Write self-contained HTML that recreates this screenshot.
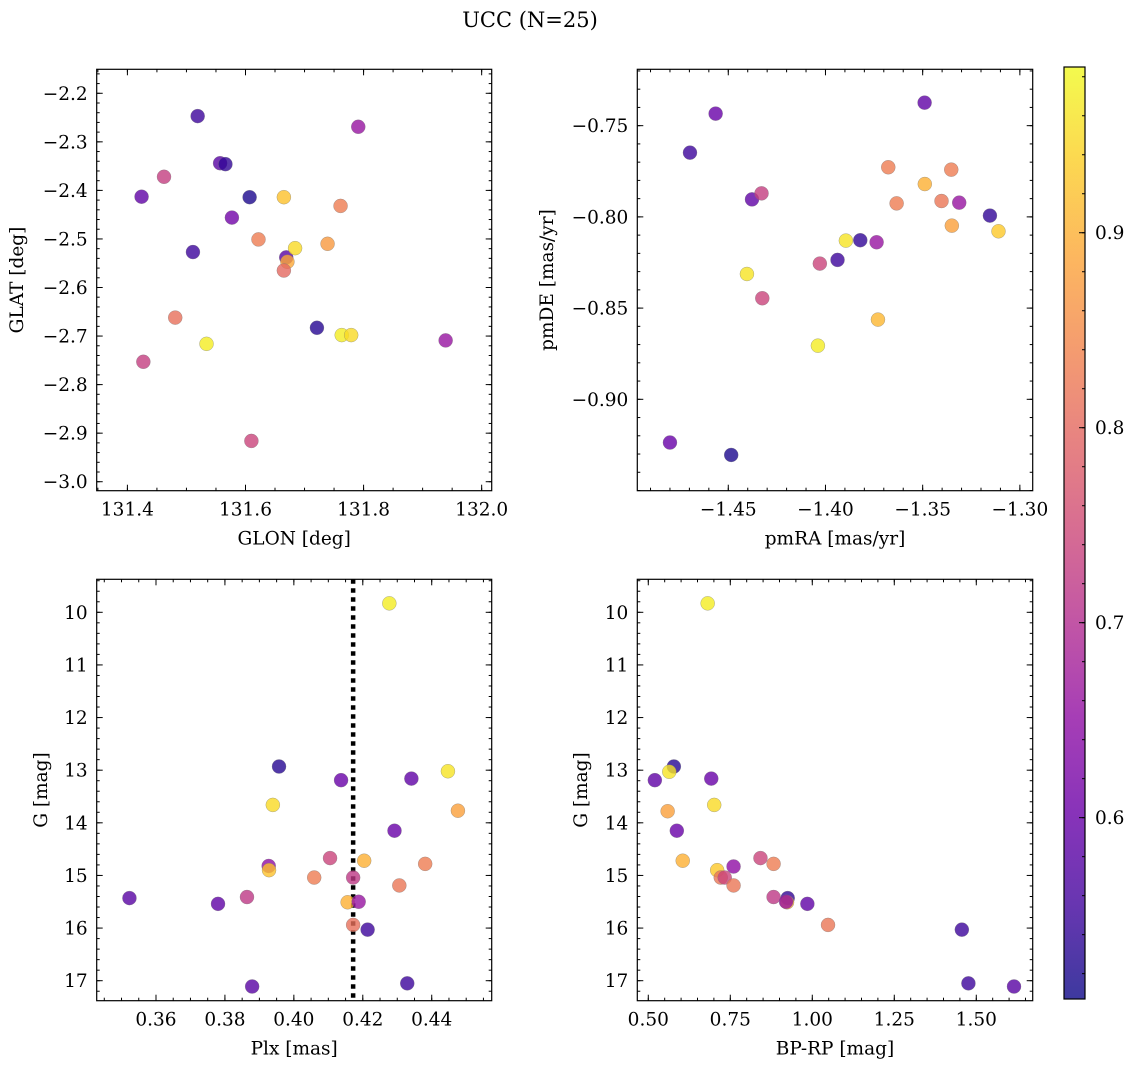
<!DOCTYPE html>
<html><head><meta charset="utf-8"><style>
html,body{margin:0;padding:0;background:#fff;}
svg{display:block;font-family:"DejaVu Serif","Liberation Serif",serif;}
</style></head><body>
<svg id="fig" width="1136" height="1067" viewBox="0 0 1136 1067" xmlns="http://www.w3.org/2000/svg">
<text x="530" y="27" font-size="21" text-anchor="middle">UCC (N=25)</text>
</svg>
<script>
// ---- data ----
const glon=[131.519,131.424,131.462,131.557,131.566,131.607,131.577,131.511,131.622,131.665,131.669,131.671,131.684,131.665,131.761,131.739,131.791,131.481,131.534,131.427,131.610,131.721,131.763,131.779,131.939];
const glat=[-2.247,-2.413,-2.372,-2.344,-2.346,-2.414,-2.456,-2.527,-2.501,-2.414,-2.538,-2.547,-2.519,-2.565,-2.432,-2.510,-2.269,-2.662,-2.716,-2.753,-2.916,-2.683,-2.698,-2.698,-2.709];
const probP1=[0.55,0.59,0.73,0.58,0.54,0.52,0.61,0.55,0.83,0.92,0.58,0.89,0.95,0.80,0.83,0.87,0.66,0.81,0.97,0.73,0.74,0.53,0.97,0.95,0.66];
const pmra=[-1.349,-1.4565,-1.4697,-1.4378,-1.4329,-1.3677,-1.3353,-1.3489,-1.3634,-1.3403,-1.3312,-1.3154,-1.335,-1.311,-1.3895,-1.3821,-1.3737,-1.4029,-1.3938,-1.4404,-1.4325,-1.373,-1.4039,-1.48,-1.4485];
const pmde=[-0.7374,-0.7434,-0.7648,-0.7904,-0.7871,-0.7728,-0.7741,-0.782,-0.7926,-0.7913,-0.7922,-0.7993,-0.8048,-0.8079,-0.813,-0.8128,-0.8139,-0.8256,-0.8236,-0.8313,-0.8446,-0.8563,-0.8706,-0.9237,-0.9305];
const probP2=[0.59,0.60,0.55,0.59,0.73,0.83,0.83,0.90,0.83,0.82,0.66,0.54,0.88,0.93,0.96,0.54,0.66,0.74,0.55,0.96,0.74,0.91,0.97,0.60,0.52];
const plx=[0.4277,0.3957,0.4137,0.4341,0.4447,0.3939,0.4476,0.4292,0.4105,0.4204,0.4381,0.3927,0.3928,0.4059,0.4172,0.4306,0.3523,0.378,0.3864,0.4156,0.4188,0.4172,0.4214,0.3879,0.4329];
const gmag3=[9.83,12.93,13.19,13.16,13.02,13.66,13.77,14.15,14.67,14.72,14.78,14.82,14.90,15.04,15.04,15.19,15.43,15.54,15.41,15.51,15.50,15.94,16.03,17.11,17.05];
const probP3=[0.97,0.53,0.60,0.59,0.96,0.95,0.88,0.60,0.74,0.90,0.83,0.65,0.92,0.83,0.72,0.82,0.58,0.59,0.72,0.90,0.66,0.81,0.55,0.58,0.55];
const bprp=[0.681,0.578,0.564,0.52,0.692,0.701,0.559,0.587,0.605,0.842,0.882,0.76,0.71,0.721,0.733,0.76,0.882,0.925,0.923,0.985,1.048,1.456,1.476,1.615,0.92];
const gmag4=[9.83,12.93,13.03,13.19,13.16,13.66,13.78,14.15,14.72,14.67,14.78,14.83,14.90,15.04,15.04,15.19,15.41,15.43,15.51,15.54,15.94,16.03,17.05,17.11,15.50];
const probP4=[0.97,0.53,0.96,0.59,0.60,0.95,0.88,0.60,0.90,0.74,0.83,0.65,0.93,0.82,0.74,0.82,0.72,0.54,0.90,0.59,0.82,0.55,0.55,0.58,0.66];
const plxLine=[0.4172];
const cbarTicks=[0.6,0.7,0.8,0.9];

const NS="http://www.w3.org/2000/svg";
const svg=document.getElementById('fig');
const VMIN=0.507,VMAX=0.985;
const FS=18.5;
const stops=["#0d0887","#41049d","#6a00a8","#8f0da4","#b12a90","#cc4778","#e16462","#f2844b","#fca636","#fcce25","#f0f921"];
function hx(c){return [parseInt(c.substr(1,2),16),parseInt(c.substr(3,2),16),parseInt(c.substr(5,2),16)];}
function plasma(t){t=Math.max(0,Math.min(1,t));const f=t*10,i=Math.min(9,Math.floor(f)),r=f-i;const a=hx(stops[i]),b=hx(stops[i+1]);
 return 'rgb('+a.map((v,k)=>Math.round(v+(b[k]-v)*r)).join(',')+')';}
function cmap(v){return plasma((v-VMIN)/(VMAX-VMIN));}
function el(tag,attrs,parent){const e=document.createElementNS(NS,tag);for(const k in attrs)e.setAttribute(k,attrs[k]);(parent||svg).appendChild(e);return e;}
function fmt(v,d){const s=Math.abs(v).toFixed(d);return (v<-1e-9?'\u2212':'')+s;}

function panel(o){
  const g=el('g',{});
  
  
  const sx=v=>o.x0+(v-o.xd[0])/(o.xd[1]-o.xd[0])*(o.x1-o.x0);
  const sy=v=>o.y0+(v-o.yd[0])/(o.yd[1]-o.yd[0])*(o.y1-o.y0);
  function ticksX(start,end,step,len){const n=Math.round((end-start)/step);const out=[];for(let i=0;i<=n;i++)out.push(start+i*step);
    out.forEach(v=>{const x=sx(v);if(x<o.x0-0.5||x>o.x1+0.5)return;
      el('line',{x1:x,x2:x,y1:o.y1,y2:o.y1-len,stroke:'#000','stroke-width':1},g);
      el('line',{x1:x,x2:x,y1:o.y0,y2:o.y0+len,stroke:'#000','stroke-width':1},g);});return out;}
  function ticksY(start,end,step,len){const n=Math.round((end-start)/step);const out=[];for(let i=0;i<=n;i++)out.push(start+i*step);
    out.forEach(v=>{const y=sy(v);if(y<o.y0-0.5||y>o.y1+0.5)return;
      el('line',{x1:o.x0,x2:o.x0+len,y1:y,y2:y,stroke:'#000','stroke-width':1},g);
      el('line',{x1:o.x1,x2:o.x1-len,y1:y,y2:y,stroke:'#000','stroke-width':1},g);});return out;}
  ticksX(o.xmin[0],o.xmin[1],o.xmin[2],3);
  ticksY(o.ymin[0],o.ymin[1],o.ymin[2],3);
  const xm=ticksX(o.xmaj[0],o.xmaj[1],o.xmaj[2],6);
  const ym=ticksY(o.ymaj[0],o.ymaj[1],o.ymaj[2],6);
  xm.forEach(v=>{const t=el('text',{x:sx(v),y:o.y1+25,'font-size':FS,'text-anchor':'middle'},g);t.textContent=fmt(v,o.xdec);
    
    });
  ym.forEach(v=>{const t=el('text',{x:o.x0-9,y:sy(v)+6.5,'font-size':FS,'text-anchor':'end'},g);t.textContent=fmt(v,o.ydec);
    
    });
  const xl=el('text',{x:(o.x0+o.x1)/2,y:o.y1+54,'font-size':FS,'text-anchor':'middle'},g);xl.textContent=o.xlabel;
  
  
  const yl=el('text',{x:o.ylx,y:(o.y0+o.y1)/2,'font-size':FS,'text-anchor':'middle',transform:'rotate(-90 '+o.ylx+' '+((o.y0+o.y1)/2)+')'},g);yl.textContent=o.ylabel;
  
  
  if(o.vline){o.vline.forEach(v=>{const l=el('line',{x1:sx(v),x2:sx(v),y1:o.y0,y2:o.y1,stroke:'#000','stroke-width':4.5,'stroke-dasharray':'4.5 4.5'},g);
    
    });}
  for(let i=0;i<o.xs.length;i++){
    const c=el('circle',{cx:sx(o.xs[i]),cy:sy(o.ys[i]),r:7,fill:cmap(o.cs[i]),'fill-opacity':0.8,stroke:'#777','stroke-opacity':0.6,'stroke-width':0.5},g);
    
    
  }
  el('rect',{x:o.x0,y:o.y0,width:o.x1-o.x0,height:o.y1-o.y0,fill:'none',stroke:'#000','stroke-width':1.2},g);
}

panel({name:'glon-glat-panel',x0:96.7,x1:491.7,y0:69.3,y1:490.7,xd:[131.348,132.017],yd:[-2.1506,-3.0185],
 xmaj:[131.4,132.0,0.2],xmin:[131.35,132.0,0.05],ymaj:[-3.0,-2.2,0.1],ymin:[-3.0,-2.16,0.02],xdec:1,ydec:1,
 xlabel:'GLON [deg]',ylabel:'GLAT [deg]',ylx:23,xs:glon,ys:glat,cs:probP1});
panel({name:'pm-panel',x0:637.3,x1:1032.7,y0:69.3,y1:490.7,xd:[-1.4968,-1.2934],yd:[-0.7191,-0.9501],
 xmaj:[-1.45,-1.30,0.05],xmin:[-1.49,-1.30,0.01],ymaj:[-0.90,-0.75,0.05],ymin:[-0.95,-0.72,0.01],xdec:2,ydec:2,
 xlabel:'pmRA [mas/yr]',ylabel:'pmDE [mas/yr]',ylx:553,xs:pmra,ys:pmde,cs:probP2});
panel({name:'plx-g-panel',x0:96.7,x1:491.7,y0:579.3,y1:1000.7,xd:[0.3428,0.4574],yd:[9.373,17.38],
 xmaj:[0.36,0.44,0.02],xmin:[0.345,0.455,0.005],ymaj:[10,17,1],ymin:[9.4,17.2,0.2],xdec:2,ydec:0,
 xlabel:'Plx [mas]',ylabel:'G [mag]',ylx:47,xs:plx,ys:gmag3,cs:probP3,vline:plxLine});
panel({name:'cmd-panel',x0:637.3,x1:1032.7,y0:579.3,y1:1000.7,xd:[0.4665,1.672],yd:[9.373,17.38],
 xmaj:[0.5,1.5,0.25],xmin:[0.5,1.65,0.05],ymaj:[10,17,1],ymin:[9.4,17.2,0.2],xdec:2,ydec:0,
 xlabel:'BP-RP [mag]',ylabel:'G [mag]',ylx:587,xs:bprp,ys:gmag4,cs:probP4});

// colorbar
(function(){
  const cx0=1064,cx1=1085,cy0=67,cy1=999;
  const g=el('g',{});
  
  
  const defs=el('defs',{},g);
  const lg=el('linearGradient',{id:'cbg',x1:0,y1:1,x2:0,y2:0},defs);
  for(let i=0;i<=20;i++){el('stop',{offset:(i/20),'stop-color':plasma(i/20),'stop-opacity':0.8},lg);}
  el('rect',{x:cx0,y:cy0,width:cx1-cx0,height:cy1-cy0,fill:'url(#cbg)'},g);
  const sy=v=>cy1-(v-VMIN)/(VMAX-VMIN)*(cy1-cy0);
  for(let v=0.52;v<0.985;v+=0.02){const y=sy(v);el('line',{x1:cx1,x2:cx1-3,y1:y,y2:y,stroke:'#000','stroke-width':1},g);}
  cbarTicks.forEach(v=>{const y=sy(v);el('line',{x1:cx1,x2:cx1-6,y1:y,y2:y,stroke:'#000','stroke-width':1},g);
    const t=el('text',{x:cx1+10,y:y+6.5,'font-size':FS},g);t.textContent=v.toFixed(1);
    
    });
  el('rect',{x:cx0,y:cy0,width:cx1-cx0,height:cy1-cy0,fill:'none',stroke:'#000','stroke-width':1.2},g);
})();
</script>
</body></html>
